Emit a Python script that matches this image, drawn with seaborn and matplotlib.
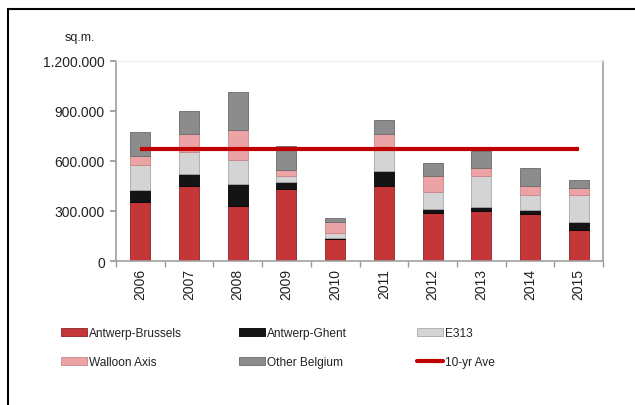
import matplotlib
matplotlib.use("Agg")
import matplotlib.pyplot as plt
import seaborn as sns
import pandas as pd
import numpy as np
from matplotlib.lines import Line2D
from matplotlib.patches import Patch
from matplotlib.ticker import FuncFormatter, FixedLocator

years = ["2006", "2007", "2008", "2009", "2010", "2011", "2012", "2013", "2014", "2015"]
antwerp_brussels = [352000, 449000, 332000, 432000, 135000, 452000, 286000, 302000, 282000, 187000]
antwerp_ghent = [76000, 76000, 130000, 44000, 5000, 87000, 26000, 20000, 24000, 48000]
e313 = [149000, 132000, 145000, 37000, 27000, 145000, 104000, 187000, 90000, 161000]
walloon_axis = [56000, 107000, 177000, 36000, 68000, 80000, 97000, 48000, 56000, 40000]
other_belgium = [141000, 137000, 231000, 141000, 21000, 80000, 74000, 106000, 105000, 51000]
ten_yr_ave = 673000

series_names = ["Antwerp-Brussels", "Antwerp-Ghent", "E313", "Walloon Axis", "Other Belgium"]
series_vals = [antwerp_brussels, antwerp_ghent, e313, walloon_axis, other_belgium]
colors = ["#C53638", "#141414", "#D4D4D4", "#EBA3A6", "#8C8C8C"]
edges = ["#8E2224", "#000000", "#A8A8A8", "#C98587", "#6A6A6A"]

sns.set_theme(style="white")
plt.rcParams['font.family'] = ['Liberation Sans Narrow', 'Liberation Sans', 'DejaVu Sans']

fig = plt.figure(figsize=(6.35, 4.06), dpi=100)
ax = fig.add_axes([116/635, 1-262/406, (603-116)/635, (262-62)/406])

df = pd.DataFrame({"year": years})
bottom = np.zeros(len(years))
for name, vals, c, ec in zip(series_names, series_vals, colors, edges):
    df[name] = vals
    sns.barplot(data=df, x="year", y=name, bottom=bottom, color=c, ax=ax,
                width=0.41, edgecolor=ec, linewidth=0.6, saturation=1)
    bottom = bottom + np.array(vals)

ax.plot([0, len(years)-1], [ten_yr_ave]*2, color="#C00000", lw=3, solid_capstyle="butt", zorder=5)

ax.set_ylim(0, 1200000)
ax.set_xlim(-0.5, len(years)-0.5)
ax.set_yticks([0, 300000, 600000, 900000, 1200000])
ax.yaxis.set_major_formatter(FuncFormatter(lambda v, p: f"{int(v):,}".replace(",", ".")))
ax.set_xlabel("")
ax.set_ylabel("")
ax.tick_params(axis="y", labelsize=10, length=4, color="#999999", direction="out", left=True, pad=4, labelcolor="#222222")
ax.set_xticks(range(len(years)))
ax.set_xticklabels(years, rotation=90, fontsize=10, color="#222222")
ax.xaxis.set_minor_locator(FixedLocator(np.arange(-0.5, len(years), 1)))
ax.tick_params(axis="x", which="major", length=0, pad=5)
ax.tick_params(axis="x", which="minor", length=4, color="#999999", bottom=True, direction="out")

for s in ["left", "bottom", "right"]:
    ax.spines[s].set_color("#A0A0A0")
    ax.spines[s].set_linewidth(1.2)
ax.spines["top"].set_color("#EEEEEE")
ax.spines["top"].set_linewidth(0.8)

fig.text(65/635, 1-38/406, "sq.m.", fontsize=9, ha="left", va="center", color="#222222")

# legends: three columns
handles = [Patch(facecolor=c, edgecolor=ec, linewidth=0.6) for c, ec in zip(colors, edges)]
line_h = Line2D([0], [0], color="#C00000", lw=3)
cols = [([handles[0], handles[3]], [series_names[0], series_names[3]], 61),
        ([handles[1], handles[4]], [series_names[1], series_names[4]], 239),
        ([handles[2], line_h], [series_names[2], "10-yr Ave"], 417)]
for h, l, xpx in cols:
    fig.legend(h, l, loc="upper left", bbox_to_anchor=(xpx/635, 1-328/406), frameon=False,
               fontsize=8.6, handlelength=2.2, handleheight=0.6, handletextpad=0.15,
               labelspacing=1.45, borderaxespad=0, borderpad=0, labelcolor="#222222")

# outer frame
fig.add_artist(Line2D([8/635, 1], [1-10/406, 1-10/406], color="black", lw=1.5, transform=fig.transFigure))
fig.add_artist(Line2D([8/635, 8/635], [0, 1-10/406], color="black", lw=1.5, transform=fig.transFigure))

fig.savefig("out.png", dpi=100)
